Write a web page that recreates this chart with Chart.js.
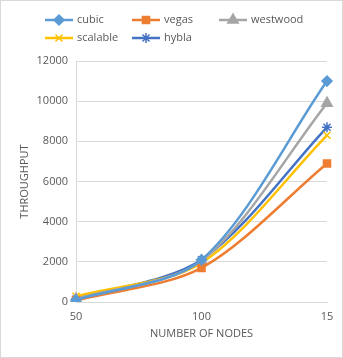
<!DOCTYPE html>
<html lang="en">
<head>
    <meta charset="UTF-8">
    <title>Throughput vs Number of Nodes</title>
    <style>
        body { margin: 0; background: #fff; }
        #wrap { width: 343px; height: 358px; }
    </style>
</head>
<body>
    <div id="wrap"><canvas id="tputChart" width="343" height="358"></canvas></div>

    <script src="https://cdn.jsdelivr.net/npm/chart.js"></script>
    <script>
        // x categories (the last label is cut short on the axis)
        const nodeLabels = ['50', '100', '15'];

        // throughput per TCP variant
        const cubic    = [100, 2100, 11000];
        const vegas    = [80, 1700, 6900];
        const westwood = [150, 2050, 9900];
        const scalable = [280, 1950, 8300];
        const hybla    = [150, 2100, 8700];

        const yTicks = [0, 2000, 4000, 6000, 8000, 10000, 12000];

        const series = [
            { label: 'cubic',    data: cubic,    color: '#5B9BD5', style: 'rectRot',  r: 5 },
            { label: 'vegas',    data: vegas,    color: '#ED7D31', style: 'rect',     r: 5 },
            { label: 'westwood', data: westwood, color: '#A5A5A5', style: 'triangle', r: 6 },
            { label: 'scalable', data: scalable, color: '#FFC000', style: 'crossRot', r: 5 },
            { label: 'hybla',    data: hybla,    color: '#4472C4', style: 'star',     r: 5 }
        ];

        const textColor = '#595959';
        const fontFamily = '"Open Sans", "Liberation Sans", Arial, sans-serif';

        // legend slots: [row y, line start x]
        const legendPos = [[20, 45], [20, 132], [20, 219], [38, 45], [38, 132]];

        const frameAndLegend = {
            id: 'frameAndLegend',
            beforeDraw(chart) {
                const ctx = chart.ctx;
                ctx.save();
                ctx.fillStyle = '#fff';
                ctx.fillRect(0, 0, chart.width, chart.height);
                ctx.strokeStyle = '#d9d9d9';
                ctx.lineWidth = 1;
                ctx.strokeRect(0.5, 0.5, chart.width - 1, chart.height - 1);
                ctx.restore();
            },
            afterDraw(chart) {
                const ctx = chart.ctx;
                ctx.save();
                ctx.font = '11px ' + fontFamily;
                ctx.textBaseline = 'middle';
                ctx.fillStyle = textColor;
                series.forEach((s, i) => {
                    const [y, x] = legendPos[i];
                    ctx.strokeStyle = s.color;
                    ctx.lineWidth = 2.5;
                    ctx.beginPath();
                    ctx.moveTo(x, y);
                    ctx.lineTo(x + 28, y);
                    ctx.stroke();
                    ctx.fillStyle = s.color;
                    ctx.lineWidth = 1.5;
                    Chart.helpers.drawPoint(ctx, { pointStyle: s.style, radius: s.r, rotation: 0, borderWidth: 1.5 }, x + 14, y);
                    ctx.fillStyle = textColor;
                    ctx.fillText(s.label, x + 32, y);
                });
                ctx.restore();
            }
        };

        const ctx = document.getElementById('tputChart').getContext('2d');
        new Chart(ctx, {
            type: 'line',
            data: {
                labels: nodeLabels,
                datasets: series.map(s => ({
                    label: s.label,
                    data: s.data,
                    borderColor: s.color,
                    backgroundColor: s.color,
                    borderWidth: 2.5,
                    tension: 0.3,
                    pointStyle: s.style,
                    pointRadius: s.r,
                    pointBorderWidth: 1.5,
                    pointHoverRadius: s.r,
                    fill: false
                }))
            },
            options: {
                responsive: false,
                animation: false,
                devicePixelRatio: 1,
                layout: { padding: { top: 61, right: 16, bottom: 14, left: 0 } },
                plugins: {
                    legend: { display: false },
                    tooltip: { enabled: false }
                },
                scales: {
                    x: {
                        offset: false,
                        grid: { display: false, drawTicks: false },
                        border: { color: '#d9d9d9' },
                        ticks: { color: textColor, font: { size: 11, family: fontFamily }, padding: 8, maxRotation: 0 },
                        title: { display: true, text: 'NUMBER OF NODES', color: textColor, font: { size: 11, family: fontFamily }, padding: { top: 4, bottom: 4 } },
                        afterFit(scale) { scale.height = 42; }
                    },
                    y: {
                        min: 0,
                        max: 12000,
                        afterBuildTicks(scale) { scale.ticks = yTicks.map(v => ({ value: v })); },
                        grid: { color: '#d9d9d9', drawTicks: false },
                        border: { color: '#d9d9d9' },
                        ticks: {
                            color: textColor,
                            font: { size: 11, family: fontFamily },
                            padding: 8,
                            callback: v => String(v)
                        },
                        title: { display: true, text: 'THROUGHPUT', color: textColor, font: { size: 11, family: fontFamily }, padding: { top: 18, bottom: 4 } },
                        afterFit(scale) { scale.width = 76; }
                    }
                }
            },
            plugins: [frameAndLegend]
        });
    </script>
</body>
</html>
